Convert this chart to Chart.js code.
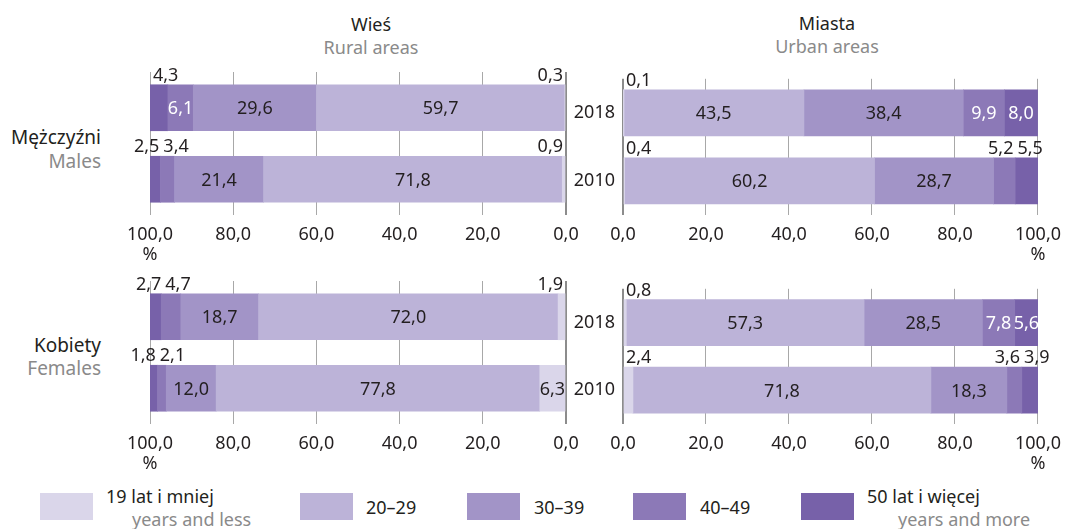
<!DOCTYPE html>
<html lang="pl">
<head>
<meta charset="utf-8">
<script src="https://cdn.jsdelivr.net/npm/chart.js@4"></script>
<style>
  body { margin: 0; background: #fff; }
  #wrap { position: relative; width: 1071px; height: 529px; overflow: hidden;
          font-family: "Noto Sans", sans-serif; font-size: 18px; color: #231f20; }
  #wrap canvas { position: absolute; }
  .t { position: absolute; line-height: 20px; white-space: nowrap; }
  .c { transform: translateX(-50%); }
  .r { transform: translateX(-100%); }
  .big { font-size: 19px; }
  .en { color: #8a8a8a; }
  .box { position: absolute; width: 53px; height: 27px; }
</style>
</head>
<body>
<div id="wrap">
  <div class="t c" style="left:371px;top:14px">Wieś</div>
  <div class="t c en" style="left:371px;top:37px">Rural areas</div>
  <div class="t c" style="left:827px;top:13px">Miasta</div>
  <div class="t c en" style="left:827px;top:36px">Urban areas</div>
  <div class="t r big" style="left:101px;top:127px">Mężczyźni</div>
  <div class="t r big en" style="left:101px;top:151px">Males</div>
  <div class="t r big" style="left:101px;top:335px">Kobiety</div>
  <div class="t r big en" style="left:101px;top:358px">Females</div>

  <canvas id="ruralMales" width="590" height="215" style="left:0;top:60px"></canvas>
  <canvas id="urbanMales" width="511" height="215" style="left:560px;top:60px"></canvas>
  <canvas id="ruralFemales" width="590" height="214" style="left:0;top:270px"></canvas>
  <canvas id="urbanFemales" width="511" height="214" style="left:560px;top:270px"></canvas>
</div>

<script>
// age groups (legend) and years (bars)
const ageGroups = ['19 lat i mniej', '20–29', '30–39', '40–49', '50 lat i więcej'];
const ageGroupsEn = ['years and less', '', '', '', 'years and more'];
const years = ['2018', '2010'];
const xTickValues = [0, 20, 40, 60, 80, 100];

// shares in %, in age group order
const ruralMales2018 = [0.3, 59.7, 29.6, 6.1, 4.3];
const ruralMales2010 = [0.9, 71.8, 21.4, 3.4, 2.5];
const urbanMales2018 = [0.1, 43.5, 38.4, 9.9, 8.0];
const urbanMales2010 = [0.4, 60.2, 28.7, 5.2, 5.5];
const ruralFemales2018 = [1.9, 72.0, 18.7, 4.7, 2.7];
const ruralFemales2010 = [6.3, 77.8, 12.0, 2.1, 1.8];
const urbanFemales2018 = [0.8, 57.3, 28.5, 7.8, 5.6];
const urbanFemales2010 = [2.4, 71.8, 18.3, 3.6, 3.9];

const colors = ['#dad6ea', '#bcb3d8', '#a294c7', '#8c79b7', '#7761a9'];
const TEXT = '#231f20';
const FONT = '"Noto Sans", sans-serif';

Chart.defaults.font.family = FONT;
Chart.defaults.font.size = 18;
Chart.defaults.color = TEXT;

const fmt = v => v.toFixed(1).replace('.', ',');

// values on the bars: big ones inside, small ones above the bar
const barLabels = {
  id: 'barLabels',
  afterDatasetsDraw(chart) {
    const ctx = chart.ctx;
    const area = chart.chartArea;
    ctx.save();
    ctx.font = '18px ' + FONT;
    ctx.textBaseline = 'alphabetic';
    ctx.textAlign = 'center';
    const outside = {};
    chart.data.datasets.forEach((ds, di) => {
      chart.getDatasetMeta(di).data.forEach((bar, i) => {
        const v = ds.data[i];
        const txt = fmt(v);
        const cx = (bar.x + bar.base) / 2;
        if (v >= 5.55) {
          ctx.fillStyle = di >= 3 ? '#fff' : TEXT;
          ctx.fillText(txt, cx, bar.y + 6.5);
        } else {
          (outside[i] = outside[i] || []).push({
            txt, x: cx, w: ctx.measureText(txt).width, top: bar.y - bar.height / 2
          });
        }
      });
    });
    const gap = (a, b) => (a.w + b.w) / 2 + 4;
    Object.values(outside).forEach(list => {
      list.sort((a, b) => a.x - b.x);
      // split into groups of labels that would collide
      const groups = [];
      list.forEach(l => {
        const g = groups[groups.length - 1];
        if (g && l.x - g[g.length - 1].x < gap(g[g.length - 1], l)) g.push(l);
        else groups.push([l]);
      });
      groups.forEach(g => {
        if (g.length === 1) {
          const l = g[0];
          l.x = Math.max(area.left + 3 + l.w / 2, Math.min(area.right - 3 - l.w / 2, l.x));
        } else {
          for (let pass = 0; pass < 3; pass++) {
            for (let j = 1; j < g.length; j++) {
              const a = g[j - 1], b = g[j];
              const need = gap(a, b);
              if (b.x - a.x < need) {
                const s = (need - (b.x - a.x)) / 2;
                a.x -= s; b.x += s;
              }
            }
          }
        }
      });
      list.forEach(l => {
        ctx.fillStyle = TEXT;
        ctx.fillText(l.txt, l.x, l.top - 4);
      });
    });
    ctx.restore();
  }
};

function makeChart(id, data2018, data2010, rural, top) {
  const datasets = ageGroups.map((g, k) => ({
    label: g,
    data: [data2018[k], data2010[k]],
    backgroundColor: colors[k],
    borderWidth: 0,
    barThickness: 46
  }));
  return new Chart(document.getElementById(id), {
    type: 'bar',
    data: { labels: years, datasets },
    options: {
      indexAxis: 'y',
      responsive: false,
      animation: false,
      layout: { padding: rural ? { top, left: 150, right: 24, bottom: 0 }
                               : { top, left: 0, right: 32, bottom: 0 } },
      plugins: { legend: { display: false }, tooltip: { enabled: false } },
      scales: {
        x: {
          stacked: true,
          reverse: rural,
          min: 0,
          max: 100,
          afterBuildTicks: s => { s.ticks = xTickValues.map(v => ({ value: v })); },
          afterFit: s => { s.height = 60; },
          border: { display: false },
          grid: {
            drawTicks: false,
            color: c => c.tick && c.tick.value === 0 ? '#8c8c8c' : '#a8a8a8',
            lineWidth: c => c.tick && c.tick.value === 0 ? 2 : 1
          },
          ticks: {
            padding: 10,
            autoSkip: false,
            maxRotation: 0,
            font: { size: 18, lineHeight: 1.1 },
            callback: v => v === 100 ? [fmt(v), '%'] : fmt(v)
          }
        },
        y: {
          stacked: true,
          display: !rural,
          afterFit: s => { s.width = rural ? 0 : 63; },
          border: { display: false },
          grid: { display: false, drawTicks: false },
          ticks: { padding: 8, font: { size: 18 } }
        }
      }
    },
    plugins: [barLabels]
  });
}

makeChart('ruralMales', ruralMales2018, ruralMales2010, true, 12);
makeChart('urbanMales', urbanMales2018, urbanMales2010, false, 12);
makeChart('ruralFemales', ruralFemales2018, ruralFemales2010, true, 11);
makeChart('urbanFemales', urbanFemales2018, urbanFemales2010, false, 11);

// legend
const legendPos = [
  { box: 40, text: 106, en: 132 },
  { box: 300, text: 366 },
  { box: 467, text: 534 },
  { box: 633, text: 700 },
  { box: 801, text: 867, en: 898 }
];
const wrap = document.getElementById('wrap');
ageGroups.forEach((g, k) => {
  const p = legendPos[k];
  const box = document.createElement('div');
  box.className = 'box';
  box.style.left = p.box + 'px';
  box.style.top = '493px';
  box.style.background = colors[k];
  wrap.appendChild(box);
  const t = document.createElement('div');
  t.className = 't';
  t.style.left = p.text + 'px';
  t.style.top = (ageGroupsEn[k] ? 486 : 497) + 'px';
  t.textContent = g;
  wrap.appendChild(t);
  if (ageGroupsEn[k]) {
    const e = document.createElement('div');
    e.className = 't en';
    e.style.left = p.en + 'px';
    e.style.top = '509px';
    e.textContent = ageGroupsEn[k];
    wrap.appendChild(e);
  }
});
</script>
</body>
</html>
